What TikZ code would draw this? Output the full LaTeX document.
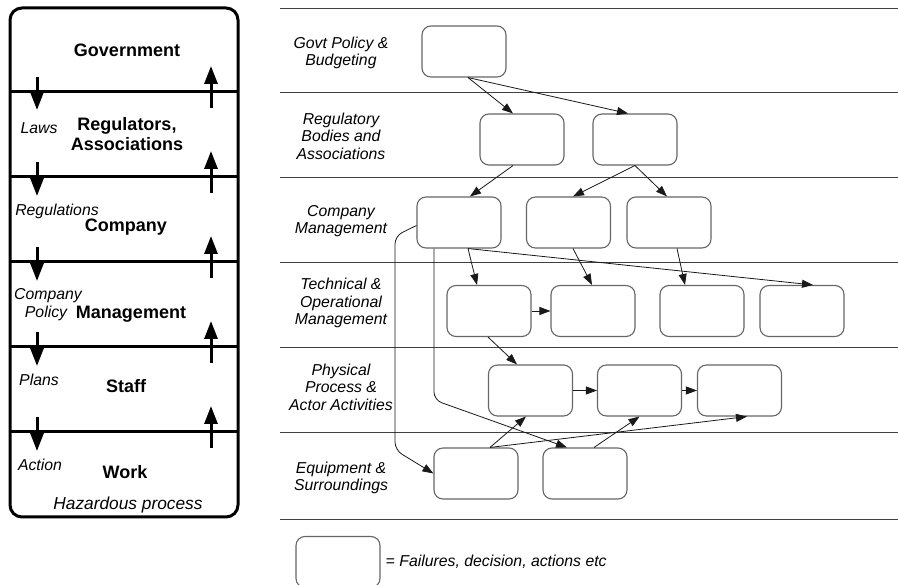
\documentclass[tikz,border=0pt]{standalone}
\usepackage{fontspec}
\setmainfont{Liberation Sans}
\usetikzlibrary{arrows.meta, positioning}

\begin{document}
\begin{tikzpicture}[x=1pt, y=-1pt,
            box/.style={draw=black!60, line width=1.1pt, rounded corners=9pt, minimum width=84pt, minimum height=51pt, inner sep=0pt},
            level/.style={font=\bfseries\fontsize{18}{20}\selectfont, align=center, inner sep=0pt},
            flow/.style={font=\itshape\fontsize{15.8}{17.6}\selectfont, align=center, inner sep=0pt},
            lane/.style={draw=black!75, line width=0.9pt},
            bar/.style={line width=3pt},
            push/.style={line width=3pt, -{Triangle[length=18pt,width=13pt]}},
            arrow/.style={draw=black!90, line width=0.8pt, -{Triangle[length=11pt,width=8pt]}}]

            \useasboundingbox (0,0) rectangle (898,585);

            % socio-technical levels
            \draw[bar, rounded corners=12pt] (10,8) rectangle (238,517);
            \draw[bar] (10,92) -- (238,92);
            \draw[bar] (10,177) -- (238,177);
            \draw[bar] (10,262) -- (238,262);
            \draw[bar] (10,347) -- (238,347);
            \draw[bar] (10,432) -- (238,432);

            \draw[push] (37,77) -- (37,110);
            \draw[push] (37,162) -- (37,196);
            \draw[push] (37,247) -- (37,281);
            \draw[push] (37,332) -- (37,366);
            \draw[push] (37,417) -- (37,451);
            \draw[push] (211,108) -- (211,66);
            \draw[push] (211,193) -- (211,151);
            \draw[push] (211,278) -- (211,236);
            \draw[push] (211,363) -- (211,321);
            \draw[push] (211,448) -- (211,406);

            \node[level] (government) at (127,50) {Government};
            \node[level] (regulators) at (127,134) {Regulators,\\Associations};
            \node[level] (company) at (126,227) {Company};
            \node[level] (management) at (131,314) {Management};
            \node[level] (staff) at (126,386) {Staff};
            \node[level] (work) at (125,472) {Work};
            \node[flow] (laws) at (39,128) {Laws};
            \node[flow] (regulations) at (57,211) {Regulations};
            \node[flow] (policyA) at (48,296) {Company};
            \node[flow] (policyB) at (46,313) {Policy};
            \node[flow] (plans) at (39,380) {Plans};
            \node[flow] (action) at (40,465) {Action};
            \node[flow, font=\itshape\fontsize{17.3}{19}\selectfont] (hazard) at (128,505) {Hazardous process};

            % lanes
            \draw[lane] (280,8) -- (898,8);
            \draw[lane] (280,92) -- (898,92);
            \draw[lane] (280,177) -- (898,177);
            \draw[lane] (280,262) -- (898,262);
            \draw[lane] (280,347) -- (898,347);
            \draw[lane] (280,432) -- (898,432);
            \draw[lane] (280,519) -- (898,519);

            \node[flow] (govt) at (341,53) {Govt Policy \&\\Budgeting};
            \node[flow] (bodies) at (341,136) {Regulatory\\Bodies and\\Associations};
            \node[flow] (compmgmt) at (341,221) {Company\\Management};
            \node[flow] (techops) at (341,303) {Technical \&\\Operational\\Management};
            \node[flow] (physical) at (341,387) {Physical\\Process \&\\Actor Activities};
            \node[flow] (equipment) at (341,478) {Equipment \&\\Surroundings};

            % events
            \node[box] (govbox) at (464,51.5) {};
            \node[box] (regA) at (522,139.5) {};
            \node[box] (regB) at (635,139.5) {};
            \node[box] (compA) at (459,222.5) {};
            \node[box] (compB) at (568.5,222.5) {};
            \node[box] (compC) at (669,222.5) {};
            \node[box] (techA) at (489,311) {};
            \node[box] (techB) at (593,311) {};
            \node[box] (techC) at (702,311) {};
            \node[box] (techD) at (802,311) {};
            \node[box] (physA) at (530.5,390.5) {};
            \node[box] (physB) at (639.5,390.5) {};
            \node[box] (physC) at (739.5,390.5) {};
            \node[box] (equipA) at (476,473.5) {};
            \node[box] (equipB) at (585,473.5) {};

            \draw[arrow] ([xshift=4pt]govbox.south) -- ([xshift=-9pt]regA.north);
            \draw[arrow] ([xshift=4pt]govbox.south) -- ([xshift=-7pt]regB.north);
            \draw[arrow] ([xshift=-9pt]regA.south) -- ([xshift=11pt]compA.north);
            \draw[arrow] (regB.south) -- ([xshift=4.5pt]compB.north);
            \draw[arrow] (regB.south) -- ([xshift=-2pt]compC.north);
            \draw[arrow] ([xshift=9pt]compA.south) -- ([xshift=-12pt]techA.north);
            \draw[arrow] ([xshift=9pt]compA.south) -- ([xshift=11pt]techD.north);
            \draw[arrow] ([xshift=4.5pt]compB.south) -- ([xshift=-1pt]techB.north);
            \draw[arrow] ([xshift=8pt]compC.south) -- ([xshift=-17pt]techC.north);
            \draw[arrow] (techA) -- (techB);
            \draw[arrow] ([xshift=-1pt]techA.south) -- ([xshift=-13.5pt]physA.north);
            \draw[arrow] (physA) -- (physB);
            \draw[arrow] (physB) -- (physC);
            \draw[arrow] ([xshift=14pt]equipA.north) -- ([xshift=-4.5pt]physA.south);
            \draw[arrow] ([xshift=14pt]equipA.north) -- ([xshift=7.5pt]physC.south);
            \draw[arrow] ([xshift=9pt]equipB.north) -- (physB.south);
            \draw[arrow, rounded corners=8pt] ([yshift=-3pt]compA.west) -- (395,236) -- (395,450) -- (equipA.west);
            \draw[arrow, rounded corners=8pt] ([xshift=-25pt]compA.south) -- (434,400) -- ([xshift=-18pt]equipB.north);

            % legend
            \node[box] (legend) at (338,562) {};
            \node[flow, anchor=west, font=\fontsize{15.8}{17.6}\selectfont] (legendtext) at ([xshift=5pt]legend.east) {= \textit{Failures, decision, actions etc}};
        \end{tikzpicture}
\end{document}
